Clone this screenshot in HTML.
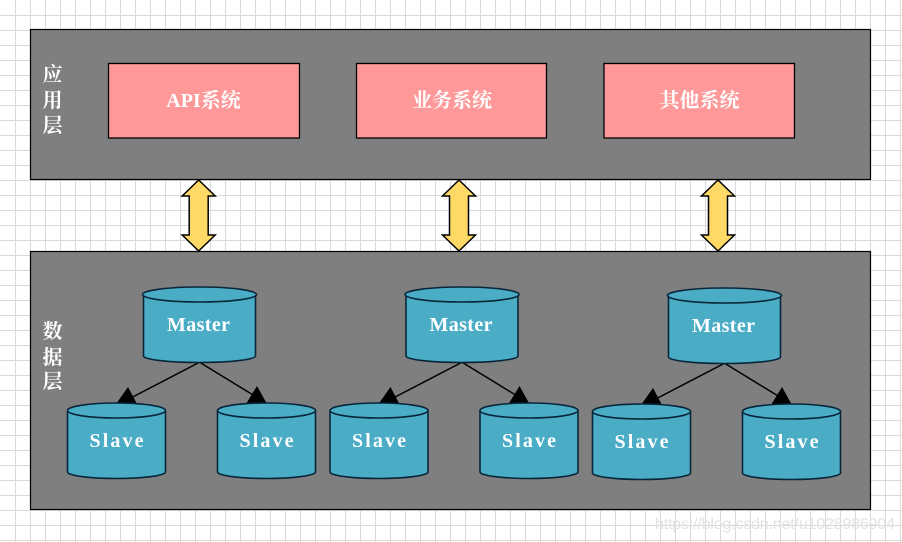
<!DOCTYPE html>
<html><head><meta charset="utf-8">
<style>
html,body{margin:0;padding:0;background:#fff}
svg{display:block}
.z{font-family:"Liberation Serif","Noto Serif CJK SC",serif;font-weight:700;font-size:20px;fill:#fff}
.m{font-family:"Liberation Serif",serif;font-weight:700;font-size:20px;fill:#fff}
</style></head><body>
<svg width="902" height="542" viewBox="0 0 902 542" xmlns="http://www.w3.org/2000/svg">
<defs>
<g id="dbl"><path d="M0 0L16.5 16H9.5V55H16.5L0 71L-16.5 55H-9.5V16H-16.5Z" fill="#ffd966" stroke="#000" stroke-width="1.5" stroke-linejoin="miter"/></g>
<g id="master">
<path d="M0 7.5V69C0 72.5 25 75.5 56 75.5S112 72.5 112 69V7.5" fill="#4bacc6" stroke="#08263a" stroke-width="1.6"/>
<ellipse cx="56" cy="7.5" rx="57" ry="7.5" fill="#4bacc6" stroke="#08263a" stroke-width="1.6"/>
</g>
<g id="slave">
<path d="M0 7.5V69C0 72.5 22 75.5 49 75.5S98 72.5 98 69V7.5" fill="#4bacc6" stroke="#08263a" stroke-width="1.6"/>
<ellipse cx="49" cy="7.5" rx="49" ry="7.5" fill="#4bacc6" stroke="#08263a" stroke-width="1.6"/>
</g>
<g id="tree">
<path d="M199 362.5L125 401M200 362.5L258 398" stroke="#000" stroke-width="1.5" fill="none"/>
<path d="M128 387L116 404H137Z M257 386L246 404H267Z" fill="#000"/>
<use href="#master" x="143.5" y="287"/>
<use href="#slave" x="67.5" y="403"/>
<use href="#slave" x="217.5" y="403"/>
<text class="m" x="167" y="331" textLength="63">Master</text>
<text class="m" x="89.5" y="447" textLength="54">Slave</text>
<text class="m" x="239.5" y="447" textLength="54">Slave</text>
</g>
</defs>
<rect width="902" height="542" fill="#fff"/>
<path fill="none" stroke="#d9d9d9" stroke-width="1" d="M15.5 0V542M30.5 0V542M45.5 0V542M60.5 0V542M75.5 0V542M90.5 0V542M105.5 0V542M120.5 0V542M135.5 0V542M150.5 0V542M165.5 0V542M180.5 0V542M195.5 0V542M210.5 0V542M225.5 0V542M240.5 0V542M255.5 0V542M270.5 0V542M285.5 0V542M300.5 0V542M315.5 0V542M330.5 0V542M345.5 0V542M360.5 0V542M375.5 0V542M390.5 0V542M405.5 0V542M420.5 0V542M435.5 0V542M450.5 0V542M465.5 0V542M480.5 0V542M495.5 0V542M510.5 0V542M525.5 0V542M540.5 0V542M555.5 0V542M570.5 0V542M585.5 0V542M600.5 0V542M615.5 0V542M630.5 0V542M645.5 0V542M660.5 0V542M675.5 0V542M690.5 0V542M705.5 0V542M720.5 0V542M735.5 0V542M750.5 0V542M765.5 0V542M780.5 0V542M795.5 0V542M810.5 0V542M825.5 0V542M840.5 0V542M855.5 0V542M870.5 0V542M885.5 0V542M900.5 0V542M0 15.5H902M0 30.5H902M0 45.5H902M0 60.5H902M0 75.5H902M0 90.5H902M0 105.5H902M0 120.5H902M0 135.5H902M0 150.5H902M0 165.5H902M0 180.5H902M0 195.5H902M0 210.5H902M0 225.5H902M0 240.5H902M0 255.5H902M0 270.5H902M0 285.5H902M0 300.5H902M0 315.5H902M0 330.5H902M0 345.5H902M0 360.5H902M0 375.5H902M0 390.5H902M0 405.5H902M0 420.5H902M0 435.5H902M0 450.5H902M0 465.5H902M0 480.5H902M0 495.5H902M0 510.5H902M0 525.5H902M0 540.5H902"/>
<rect x="30.5" y="29.5" width="840" height="150" fill="#7f7f7f" stroke="#000" stroke-width="1.2"/>
<rect x="30.5" y="251.5" width="840" height="258" fill="#7f7f7f" stroke="#000" stroke-width="1.2"/>
<g fill="#ff9999" stroke="#000" stroke-width="1.3">
<rect x="108.5" y="63.5" width="191" height="74.5"/>
<rect x="356.5" y="63.5" width="190" height="74.5"/>
<rect x="604" y="63.5" width="190.5" height="74.5"/>
</g>
<text class="z" x="203.5" y="107" text-anchor="middle">API系统</text>
<text class="z" x="452" y="107" text-anchor="middle">业务系统</text>
<text class="z" x="699.5" y="107" text-anchor="middle">其他系统</text>
<text class="z" x="52.5" y="81" text-anchor="middle">应</text>
<text class="z" x="52.5" y="107" text-anchor="middle">用</text>
<text class="z" x="52.5" y="132" text-anchor="middle">层</text>
<text class="z" x="52.5" y="338" text-anchor="middle">数</text>
<text class="z" x="52.5" y="364" text-anchor="middle">据</text>
<text class="z" x="52.5" y="388" text-anchor="middle">层</text>
<use href="#dbl" x="198.7" y="180"/>
<use href="#dbl" x="459" y="180"/>
<use href="#dbl" x="718" y="180"/>
<use href="#tree"/>
<use href="#tree" x="262.5"/>
<use href="#tree" x="525" y="1"/>
<text x="655" y="529" font-family="Liberation Sans,sans-serif" font-size="16" fill="#e2e2e2" textLength="240">https://blog.csdn.net/u1028986904</text>
</svg>
</body></html>
